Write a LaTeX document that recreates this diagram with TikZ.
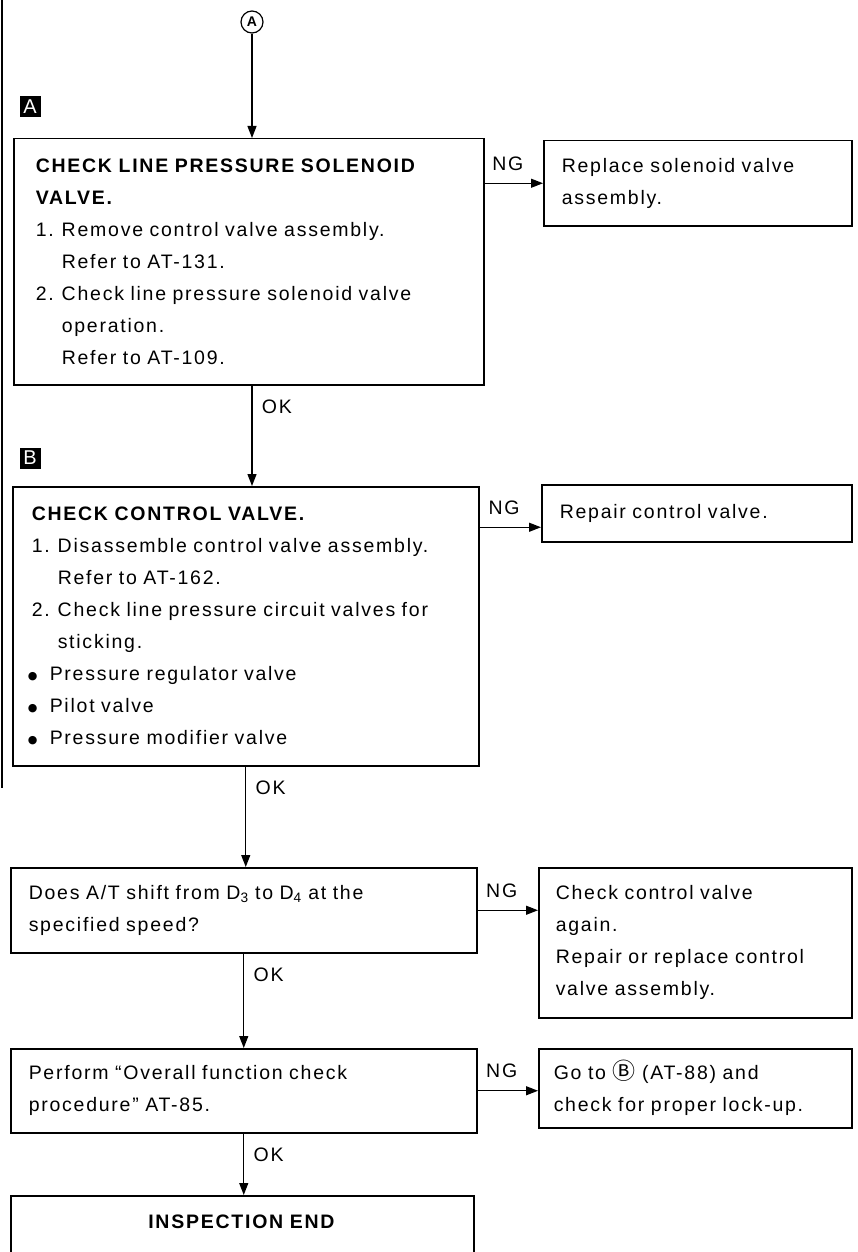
\documentclass[tikz,border=0pt]{standalone}
\usepackage{fontspec}
\setmainfont[LetterSpace=9]{Liberation Sans}
\newfontfamily\symfont{DejaVu Sans}
\newfontfamily\cjk{Noto Sans CJK JP}
\usetikzlibrary{arrows.meta,positioning}

\newcommand\itm[1]{\makebox[26pt][l]{#1}}
\newcommand\cont{\hspace*{26pt}}
\newcommand\dotitm{\hspace*{-4pt}\makebox[22pt][l]{\raisebox{1pt}{\fontsize{11}{11}\symfont ●}}}

\begin{document}
\begin{tikzpicture}[x=1pt, y=-1pt,
  stepbox/.style={draw, line width=1.5pt, anchor=north west, align=left, inner xsep=18pt, inner ysep=0pt, font=\fontsize{19.5}{32}\selectfont},
  tag/.style={fill=black, text=white, font=\fontsize{20}{20}\selectfont, minimum size=21pt, inner sep=0pt},
  lbl/.style={font=\fontsize{19.5}{20}\selectfont},
  arr/.style={-{Triangle[length=12pt,width=9pt]}, line width=1.3pt}
]
\useasboundingbox (0,0) rectangle (858,1252);

% margin bar
\draw[line width=1.5pt] (2,0) -- (2,788);

% Step A
\node[draw, circle, line width=1.2pt, minimum size=22pt, inner sep=0pt, font=\fontsize{14}{14}\bfseries] (cA) at (252,22) {A};
\node[tag] (tA) at (30,107) {A};
\node[stepbox, inner xsep=22pt, text width=426pt, minimum height=246pt] (box1) at (13,138)
  {\textbf{CHECK LINE PRESSURE SOLENOID}\\
   \textbf{VALVE.}\\
   \itm{1.}Remove control valve assembly.\\
   \cont Refer to AT-131.\\
   \itm{2.}Check line pressure solenoid valve\\
   \cont operation.\\
   \cont Refer to AT-109.};
\node[stepbox, text width=272pt, minimum height=85pt] (rb1) at (543,140)
  {Replace solenoid valve\\ assembly.};

% Step B
\node[tag] (tB) at (30,458) {B};
\node[stepbox, inner xsep=19pt, text width=428pt, minimum height=279pt] (box2) at (12,486)
  {\textbf{CHECK CONTROL VALVE.}\\
   \itm{1.}Disassemble control valve assembly.\\
   \cont Refer to AT-162.\\
   \itm{2.}Check line pressure circuit valves for\\
   \cont sticking.\\
   \dotitm Pressure regulator valve\\
   \dotitm Pilot valve\\
   \dotitm Pressure modifier valve};
\node[stepbox, text width=274pt, minimum height=57pt] (rb2) at (541,484)
  {Repair control valve.};

% Shift check
\node[stepbox, text width=430pt, minimum height=85pt] (box3) at (10,867)
  {Does A/T shift from D\textsubscript{3} to D\textsubscript{4} at the\\ specified speed?};
\node[stepbox, inner xsep=17pt, text width=279pt, minimum height=150pt] (rb3) at (538,867)
  {Check control valve\\ again.\\ Repair or replace control\\ valve assembly.};

% Function check
\node[stepbox, text width=430pt, minimum height=84pt] (box4) at (10,1048)
  {Perform ``Overall function check\\ procedure'' AT-85.};
\node[stepbox, inner xsep=15pt, text width=283pt, minimum height=79pt] (rb4) at (538,1048)
  {Go to {\fontsize{23}{23}\cjk Ⓑ} (AT-88) and\\ check for proper lock-up.};

% End
\node[stepbox, align=center, text width=427pt, text height=33pt, text depth=40pt] (box5) at (10,1195)
  {\textbf{INSPECTION END}};

% Arrows
\draw[arr] (cA) -- (cA |- box1.north);
\draw[arr] (box1.east |- rb1.west) -- (rb1.west) node[lbl, above=9pt, pos=0.4] {NG};
\draw[arr] (cA |- box1.south) -- (cA |- box2.north) node[lbl, anchor=north west, pos=0, xshift=6pt, yshift=-10pt] {OK};
\draw[arr] ([yshift=-14pt]box2.east |- rb2.west) -- ([yshift=-14pt]rb2.west) node[lbl, above=9pt, pos=0.4] {NG};
\draw[arr] (box2.south) -- (box2.south |- box3.north) node[lbl, anchor=north west, pos=0, xshift=6pt, yshift=-10pt] {OK};
\draw[arr] (box3.east) -- (box3.east -| rb3.west) node[lbl, above=9pt, pos=0.4] {NG};
\draw[arr] (box3.south) -- (box3.south |- box4.north) node[lbl, anchor=north west, pos=0, xshift=6pt, yshift=-10pt] {OK};
\draw[arr] (box4.east) -- (box4.east -| rb4.west) node[lbl, above=9pt, pos=0.4] {NG};
\draw[arr] (box4.south) -- (box4.south |- box5.north) node[lbl, anchor=north west, pos=0, xshift=6pt, yshift=-10pt] {OK};
\end{tikzpicture}
\end{document}
